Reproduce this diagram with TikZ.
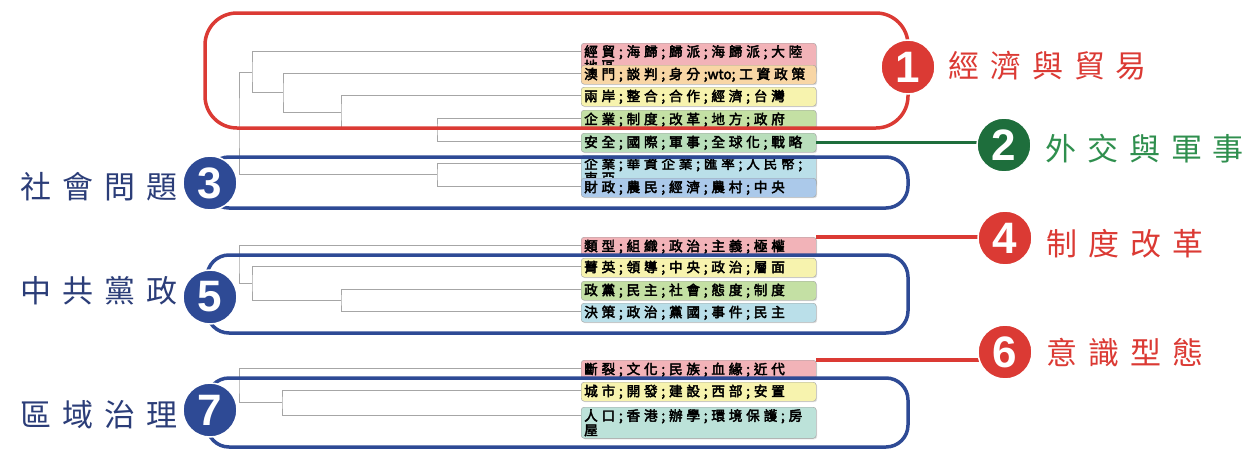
\documentclass[tikz,border=0pt]{standalone}
\usepackage{fontspec}
\usetikzlibrary{calc, shadows}
\newfontfamily\cjkleaf[LetterSpace=28, FakeBold=3]{Noto Sans CJK TC}
\newfontfamily\cjktight[FakeBold=3]{Noto Sans CJK TC}
\newfontfamily\cjktopic[LetterSpace=35]{Noto Sans CJK TC}
\newfontfamily\numfont{Liberation Sans}
\definecolor{grred}{HTML}{DB3A34}
\definecolor{grgreen}{HTML}{1E6E3C}
\definecolor{txgreen}{HTML}{2F8F4E}
\definecolor{grblue}{HTML}{2E4A95}
\definecolor{txblue}{HTML}{2B3D78}
\definecolor{lfpink}{HTML}{F2B3B8}
\definecolor{lfpeach}{HTML}{F8D6A5}
\definecolor{lfyellow}{HTML}{F7F3AE}
\definecolor{lfgreen}{HTML}{C4E0A4}
\definecolor{lfmint}{HTML}{B9DEBB}
\definecolor{lfcyan}{HTML}{BADFE9}
\definecolor{lfblue}{HTML}{ABC9EA}
\definecolor{lfteal}{HTML}{BCE2D9}

\begin{document}
\begin{tikzpicture}[
  x=1pt, y=-1pt,
  leaf/.style={rectangle, rounded corners=3pt, draw=gray!75, anchor=north west, minimum width=235pt, minimum height=19pt, inner xsep=3pt, inner ysep=2pt, text width=229pt, align=left, font=\cjkleaf\fontsize{13.6}{14.5}\selectfont, drop shadow={shadow xshift=1pt, shadow yshift=-1pt, opacity=0.25}},
  branch/.style={draw=gray!70, line width=0.8pt},
  frame/.style={line width=3.5pt},
  badge/.style={circle, minimum size=54pt, inner sep=0pt, draw=white, line width=1.5pt, text=white, font=\numfont\bfseries\fontsize{44}{44}\selectfont},
  topic/.style={font=\cjktopic\fontsize{31}{31}\selectfont},
]
\useasboundingbox (0,0) rectangle (1246,450);

% Leaves
\node[leaf, fill=lfpink] (leaf1) at (581,43) {經貿;海歸;歸派;海歸派;大陸\\地區};
\node[leaf, fill=lfpeach] (leaf2) at (581,65) {澳門;談判;身分;{\cjktight wto};工資政策};
\node[leaf, fill=lfyellow] (leaf3) at (581,87) {兩岸;整合;合作;經濟;台灣};
\node[leaf, fill=lfgreen] (leaf4) at (581,110) {企業;制度;改革;地方;政府};
\node[leaf, fill=lfmint] (leaf5) at (581,133) {安全;國際;軍事;全球化;戰略};
\node[leaf, fill=lfcyan] (leaf6) at (581,155) {企業;華資企業;匯率;人民幣;\\東亞};
\node[leaf, fill=lfblue] (leaf7) at (581,178) {財政;農民;經濟;農村;中央};
\node[leaf, fill=lfpink] (leaf8) at (581,237) {類型;組織;政治;主義;極權};
\node[leaf, fill=lfyellow] (leaf9) at (581,258) {菁英;領導;中央;政治;層面};
\node[leaf, fill=lfgreen] (leaf10) at (581,281) {政黨;民主;社會;態度;制度};
\node[leaf, fill=lfcyan] (leaf11) at (581,303) {決策;政治;黨國;事件;民主};
\node[leaf, fill=lfpink] (leaf12) at (581,360) {斷裂;文化;民族;血緣;近代};
\node[leaf, fill=lfyellow] (leaf13) at (581,382) {城市;開發;建設;西部;安置};
\node[leaf, fill=lfteal] (leaf14) at (581,407) {人口;香港;辦學;環境保護;房\\屋};

\foreach \i in {1,...,14}
  \coordinate (a\i) at ([yshift=-8pt]leaf\i.north west);

% Dendrogram, top cluster
\coordinate (m45) at (437,129.5);
\coordinate (m35) at (341,112);
\coordinate (m25) at (283,92.5);
\coordinate (m15) at (252,72);
\coordinate (m67) at (437,174.5);
\coordinate (mtop) at (239,123);
\draw[branch] (a4) -| (m45) |- (a5);
\draw[branch] (a3) -| (m35) |- (m45);
\draw[branch] (a2) -| (m25) |- (m35);
\draw[branch] (a1) -| (m15) |- (m25);
\draw[branch] (a6) -| (m67) |- (a7);
\draw[branch] (m15) -| (mtop) |- (m67);

% Dendrogram, middle cluster
\coordinate (m1011) at (341,300);
\coordinate (m911) at (252,283);
\coordinate (mmid) at (239,264);
\draw[branch] (a10) -| (m1011) |- (a11);
\draw[branch] (a9) -| (m911) |- (m1011);
\draw[branch] (a8) -| (mmid) |- (m911);

% Dendrogram, bottom cluster
\coordinate (m1314) at (282,402.5);
\coordinate (mbot) at (239,385);
\draw[branch] (a13) -| (m1314) |- (a14);
\draw[branch] (a12) -| (mbot) |- (m1314);

% Group frames
\draw[frame, grred, rounded corners=32pt] (205,13) rectangle (908,128);
\draw[frame, grblue, rounded corners=22pt] (207,157) rectangle (908,208);
\draw[frame, grblue, rounded corners=22pt] (207,255) rectangle (908,333);
\draw[frame, grblue, rounded corners=22pt] (207,378) rectangle (908,447);

% Single-leaf topics
\coordinate (c2) at (1004,145);
\coordinate (c4) at (1005,238);
\coordinate (c6) at (1005,352);
\draw[line width=3.2pt, grgreen] (leaf5.east) -- (leaf5.east -| c2);
\draw[line width=3.2pt, grred] (leaf8.north east) -- (leaf8.north east -| c4);
\draw[line width=3.2pt, grred] (leaf12.north east) -- (leaf12.north east -| c6);

% Badges
\node[badge, fill=grred] (n1) at (908,67) {1};
\node[badge, fill=grgreen] (n2) at (c2) {2};
\node[badge, fill=grblue] (n3) at (210,183) {3};
\node[badge, fill=grred] (n4) at (c4) {4};
\node[badge, fill=grblue] (n5) at (210,297) {5};
\node[badge, fill=grred] (n6) at (c6) {6};
\node[badge, fill=grblue] (n7) at (210,410) {7};

% Topic names
\node[topic, text=grred, anchor=west] (t1) at (945,66) {經濟與貿易};
\node[topic, text=txgreen, anchor=west] (t2) at (1042,149) {外交與軍事};
\node[topic, text=txblue, anchor=east] (t3) at (181,187) {社會問題};
\node[topic, text=grred, anchor=west] (t4) at (1043,244) {制度改革};
\node[topic, text=txblue, anchor=east] (t5) at (181,291) {中共黨政};
\node[topic, text=grred, anchor=west] (t6) at (1043,353) {意識型態};
\node[topic, text=txblue, anchor=east] (t7) at (181,415) {區域治理};

\end{tikzpicture}
\end{document}
